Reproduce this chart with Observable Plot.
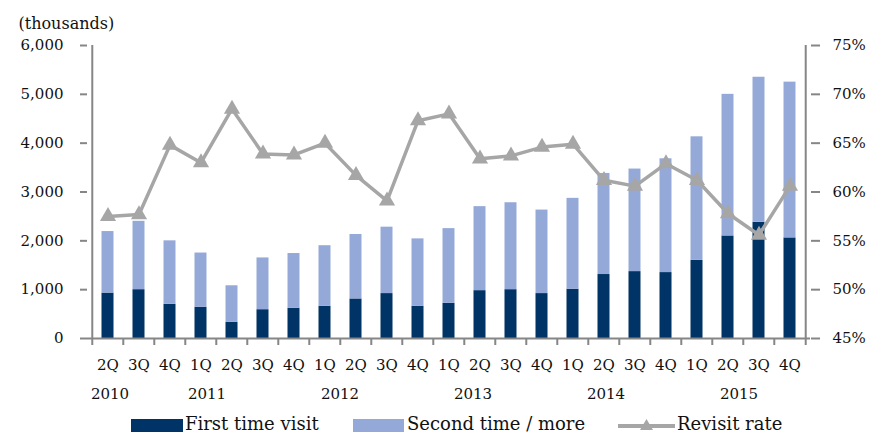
<!DOCTYPE html>
<html>
<head>
<meta charset="utf-8">
<script src="https://cdn.jsdelivr.net/npm/d3@7"></script>
<script src="https://cdn.jsdelivr.net/npm/@observablehq/plot@0.6"></script>
<style>
  body { margin: 0; background: #fff; }
  #wrap { position: relative; width: 876px; height: 436px; font-family: "DejaVu Serif", serif; }
  #legend { position: absolute; left: 0; top: 405px; width: 876px; height: 31px; font-size: 18px; color: #111; }
  .sw { position: absolute; top: 14px; height: 13px; }
  .lt { position: absolute; top: 9px; line-height: 20px; white-space: nowrap; }
</style>
</head>
<body>
<div id="wrap">
  <div id="chart"></div>
  <div id="legend">
    <div class="sw" style="left:131px;width:52px;background:#003366"></div>
    <div class="lt" style="left:185px">First time visit</div>
    <div class="sw" style="left:353px;width:51px;background:#95A9D8"></div>
    <div class="lt" style="left:407px">Second time / more</div>
    <svg style="position:absolute;left:618px;top:11px" width="58" height="20">
      <line x1="0" y1="10" x2="57" y2="10" stroke="#A6A6A6" stroke-width="4"/>
      <path d="M28.5,3 L35,14 L22,14 Z" fill="#A6A6A6"/>
    </svg>
    <div class="lt" style="left:677px">Revisit rate</div>
  </div>
</div>
<script>
const categories = ["2Q 2010","3Q 2010","4Q 2010","1Q 2011","2Q 2011","3Q 2011","4Q 2011",
  "1Q 2012","2Q 2012","3Q 2012","4Q 2012","1Q 2013","2Q 2013","3Q 2013","4Q 2013",
  "1Q 2014","2Q 2014","3Q 2014","4Q 2014","1Q 2015","2Q 2015","3Q 2015","4Q 2015"];
const firstTime = [930,1000,700,640,330,590,620,660,810,920,660,720,980,1000,920,1010,1310,1370,1350,1600,2100,2380,2060];
const secondOrMore = [1260,1400,1300,1110,750,1060,1120,1240,1320,1360,1380,1530,1720,1780,1710,1860,2070,2100,2330,2530,2900,2970,3190];
const revisitRate = [57.5,57.7,64.8,63.0,68.5,63.9,63.8,65.0,61.7,59.1,67.3,68.0,63.4,63.7,64.6,64.9,61.2,60.6,62.9,61.2,57.8,55.6,60.6];
const leftTicks = [0,1000,2000,3000,4000,5000,6000];
const rateTicks = [45,50,55,60,65,70,75];
const yearLabels = ["2010","2011","2012","2013","2014","2015"];
const yearAnchors = ["2Q 2010","1Q 2011","1Q 2012","1Q 2013","2Q 2014","2Q 2015"];

const W = 876, H = 405, mL = 87, mR = 66, mT = 45, mB = 67;
const bw = (W - mL - mR) / categories.length;
const axisColor = "#868686";
const rateToY = r => (r - 45) / 30 * 6000;

const bars = [];
categories.forEach((c, i) => {
  bars.push({cat: c, type: "First time visit", value: firstTime[i]});
  bars.push({cat: c, type: "Second time / more", value: secondOrMore[i]});
});
const rates = categories.map((c, i) => ({cat: c, rate: revisitRate[i]}));
const yearData = yearLabels.map((y, i) => ({year: y, at: yearAnchors[i]}));
const yearDx = [2, 6, 15, 24, 2, 11];

const marks = [
  Plot.barY(bars, {x: "cat", y: "value", fill: "type", order: ["First time visit","Second time / more"], insetLeft: 9.5, insetRight: 9.5}),
  Plot.ruleY([0], {stroke: axisColor, strokeWidth: 2}),
  Plot.ruleX([categories[0]], {y1: 0, y2: 6000, dx: -bw/2, stroke: axisColor, strokeWidth: 2}),
  Plot.ruleX([categories[categories.length-1]], {y1: 0, y2: 6000, dx: bw/2, stroke: axisColor, strokeWidth: 2}),
  Plot.axisY({anchor: "left", ticks: leftTicks, tickFormat: d3.format(","), tickSize: 7, tickPadding: 17, stroke: axisColor, strokeWidth: 2, fontSize: 15, fill: "#111", label: null}),
  Plot.axisY({anchor: "right", ticks: rateTicks.map(rateToY), tickFormat: d => Math.round(45 + d / 200) + "%", tickSize: 9, tickPadding: 13, stroke: axisColor, strokeWidth: 2, fontSize: 15, fill: "#111", label: null}),
  Plot.axisX({tickSize: 7, tickFormat: () => "", dx: -bw/2, stroke: axisColor, strokeWidth: 2, label: null}),
  Plot.axisX({ticks: [categories[categories.length-1]], tickSize: 7, tickFormat: () => "", dx: bw/2, stroke: axisColor, strokeWidth: 2, label: null}),
  Plot.axisX({tickSize: 0, tickPadding: 21, tickFormat: d => d.split(" ")[0], fontSize: 15, fill: "#111", label: null}),
  Plot.line(rates, {x: "cat", y: d => rateToY(d.rate), stroke: "#A6A6A6", strokeWidth: 3.5}),
  Plot.dot(rates, {x: "cat", y: d => rateToY(d.rate), symbol: "triangle", fill: "#A6A6A6", r: 6}),
  Plot.text(["(thousands)"], {frameAnchor: "top-left", dx: -69, dy: -28, textAnchor: "start", fontSize: 16, fill: "#111"})
];
yearData.forEach((d, i) => {
  marks.push(Plot.text([d], {x: "at", y: 0, text: "year", dy: 56, dx: yearDx[i], fontSize: 15, fill: "#111"}));
});

const chart = Plot.plot({
  width: W, height: H,
  marginLeft: mL, marginRight: mR, marginTop: mT, marginBottom: mB,
  style: {fontFamily: "DejaVu Serif, serif", fontSize: "15px", background: "#fff", overflow: "visible"},
  x: {type: "band", domain: categories, padding: 0, axis: null},
  y: {domain: [0, 6000], axis: null},
  color: {domain: ["First time visit","Second time / more"], range: ["#003366","#95A9D8"]},
  marks
});
document.getElementById("chart").appendChild(chart);
</script>
</body>
</html>
